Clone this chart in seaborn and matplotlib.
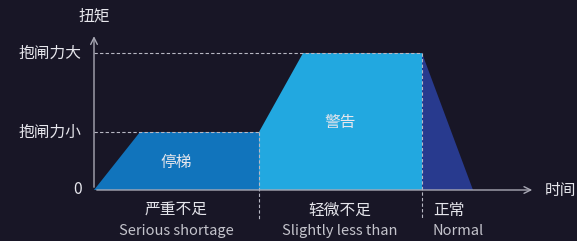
import matplotlib
matplotlib.use("Agg")
import matplotlib.pyplot as plt
import seaborn as sns

# data (time in arbitrary units, torque in units of the small brake force)
small_force = 1.0
large_force = 2.36
stop_t = [0.0, 0.46, 1.65, 1.65]
stop_y = [0.0, small_force, small_force, 0.0]
warn_t = [1.65, 1.65, 2.09, 3.28, 3.28]
warn_y = [0.0, small_force, large_force, large_force, 0.0]
norm_t = [3.28, 3.79, 3.28]
norm_y = [large_force, 0.0, 0.0]

zone_cn = ["严重不足", "轻微不足", "正常"]
zone_en = ["Serious shortage", "Slightly less than", "Normal"]
ytick_labels = ["0", "抱闸力小", "抱闸力大"]

bg = "#181626"
sns.set_theme(style="dark")
plt.rcParams["font.family"] = ["Noto Sans CJK SC", "DejaVu Sans"]

fig = plt.figure(figsize=(5.77, 2.41), dpi=100, facecolor=bg)
ax = fig.add_axes([0, 0, 1, 1])
ax.set_facecolor(bg)
ax.set_xlim(-0.94, 4.83)
ax.set_ylim(-51 / 58, 190 / 58)
ax.axis("off")

ax.fill(stop_t, stop_y, color="#1174bc", lw=0)
ax.fill(warn_t, warn_y, color="#22a8e0", lw=0)
ax.fill(norm_t, norm_y, color="#283a8e", lw=0)

# guide lines
dash = dict(color="#b8b8c4", lw=0.8, ls=(0, (3, 2)))
ax.plot([0, warn_t[3]], [large_force, large_force], **dash)
ax.plot([0, stop_t[2]], [small_force, small_force], **dash)
ax.plot([stop_t[2], stop_t[2]], [small_force, -0.52], **dash)
ax.plot([warn_t[3], warn_t[3]], [large_force, -0.48], **dash)

# axes with arrows
axis_col = "#a8a8b4"
ax.annotate("", xy=(4.41, 0), xytext=(0, 0),
            arrowprops=dict(arrowstyle="->", color=axis_col, lw=1.0))
ax.annotate("", xy=(0, 2.7), xytext=(0, 0),
            arrowprops=dict(arrowstyle="->", color=axis_col, lw=1.0))

txt = "#e6e6ec"
cn_size = 11.3
ax.text(0.0, 3.0, "扭矩", color=txt, fontsize=cn_size, ha="center", va="center")
ax.text(4.51, 0, "时间", color=txt, fontsize=cn_size, ha="left", va="center")
for lab, yv in zip(ytick_labels, [0, small_force, large_force]):
    ax.text(-0.12, yv, lab, color=txt, fontsize=cn_size, ha="right", va="center")

ax.text(0.82, 0.48, "停梯", color=txt, fontsize=cn_size, ha="center", va="center")
ax.text(2.46, 1.17, "警告", color=txt, fontsize=cn_size, ha="center", va="center")

zone_x = [0.82, 2.46, 3.39]
zone_ha = ["center", "center", "left"]
for zx, ha, cn, en in zip(zone_x, zone_ha, zone_cn, zone_en):
    ax.text(zx, -0.35, cn, color=txt, fontsize=cn_size, ha=ha, va="center")
    ax.text(zx, -0.7, en, color="#c4c4cc", fontsize=10.5, ha=ha, va="center")

fig.savefig("out.png", dpi=100, facecolor=bg)
